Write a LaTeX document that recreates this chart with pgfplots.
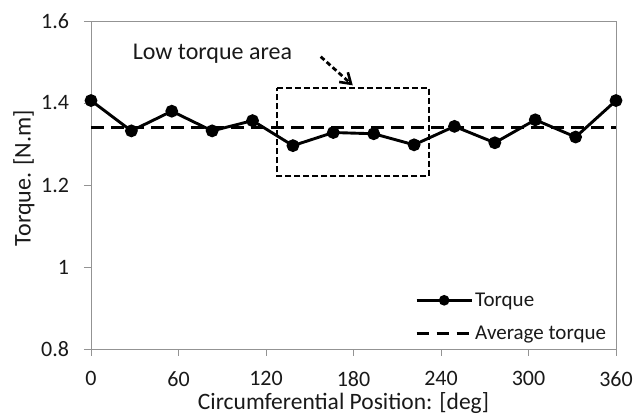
\documentclass[border=0pt]{standalone}
\usepackage{pgfplots}
\pgfplotsset{compat=1.18}
\usepackage{fontspec}
\setmainfont{Carlito}
\usetikzlibrary{arrows.meta}
\pgfplotsset{
  torqueleg/.style={legend image code/.code={\draw[mark repeat=2,mark phase=2,##1, mark size=3.8pt]
    plot coordinates {(0pt,0pt) (27.5pt,0pt) (55pt,0pt)};}},
  avgleg/.style={legend image code/.code={\draw[##1] (0pt,0pt) -- (55pt,0pt);}},
}
\begin{document}
\begin{tikzpicture}
\begin{axis}[
  scale only axis,
  width=525pt, height=328pt,
  xmin=0, xmax=360, ymin=0.8, ymax=1.6,
  xtick={0,60,...,360},
  ytick={0.8,1,1.2,1.4,1.6},
  /pgf/number format/assume math mode=true,
  tick align=outside,
  tick pos=left,
  major tick length=7pt,
  axis line style={gray!85, line width=0.9pt},
  every tick/.style={gray!85, line width=0.9pt},
  ticklabel style={font=\fontsize{22}{26}\selectfont, text=black!90},
  yticklabel style={xshift=-11.5pt},
  xticklabel style={yshift=-12pt},
  xlabel={Circumferential Position: [deg]},
  ylabel={Torque. [N.m]},
  xlabel style={at={(axis description cs:0.5,0)}, anchor=base, yshift=-60.5pt, xshift=-10pt,
     font=\fontsize{23.5}{28}\selectfont, text=black!90},
  ylabel style={at={(axis description cs:0,0.5)}, anchor=center, yshift=67pt, xshift=7pt,
     font=\fontsize{24}{28}\selectfont, text=black!90},
  legend style={draw=none, fill=none, at={(rel axis cs:0.617,0.178)}, anchor=north west,
    font=\fontsize{21}{25}\selectfont, row sep=14pt, inner sep=0pt,
    nodes={inner sep=2pt, text=black!90}},
  legend cell align=left,
  clip=false,
]
\addplot[black, line width=2.9pt, mark=*, mark size=4.9pt, torqueleg] coordinates {
(0,1.406) (27.69,1.332) (55.38,1.380) (83.08,1.332) (110.77,1.357)
(138.46,1.296) (166.15,1.328) (193.85,1.325) (221.54,1.298) (249.23,1.343)
(276.92,1.303) (304.62,1.359) (332.31,1.317) (360,1.406)
};
\addlegendentry{Torque}
\addplot[black, line width=3.1pt, dash pattern=on 12.7pt off 7.3pt, avgleg] coordinates {(0,1.341) (360,1.341)};
\addlegendentry{Average torque}
\addplot[black, line width=2.6pt, dash pattern=on 6pt off 3pt, forget plot] coordinates {
(127.5,1.437) (231.8,1.437) (231.8,1.222) (127.5,1.222) (127.5,1.437)};
\draw[black, line width=2.8pt, dash pattern=on 5pt off 3pt, -{Straight Barb[length=10pt,width=13pt,line width=2.6pt]}]
  (axis cs:157.5,1.513) -- (axis cs:179.5,1.443);
\node[anchor=base west, inner sep=0pt, font=\fontsize{24}{28}\selectfont, text=black!90] at (axis cs:28.5,1.505) {Low torque area};
\coordinate (LL) at (rel axis cs:0,0);
\coordinate (UR) at (rel axis cs:1,1);
\end{axis}
\pgfresetboundingbox
\path[use as bounding box] ([shift={(-91pt,-67pt)}]LL) rectangle ([shift={(22pt,21pt)}]UR);
\end{tikzpicture}
\end{document}
